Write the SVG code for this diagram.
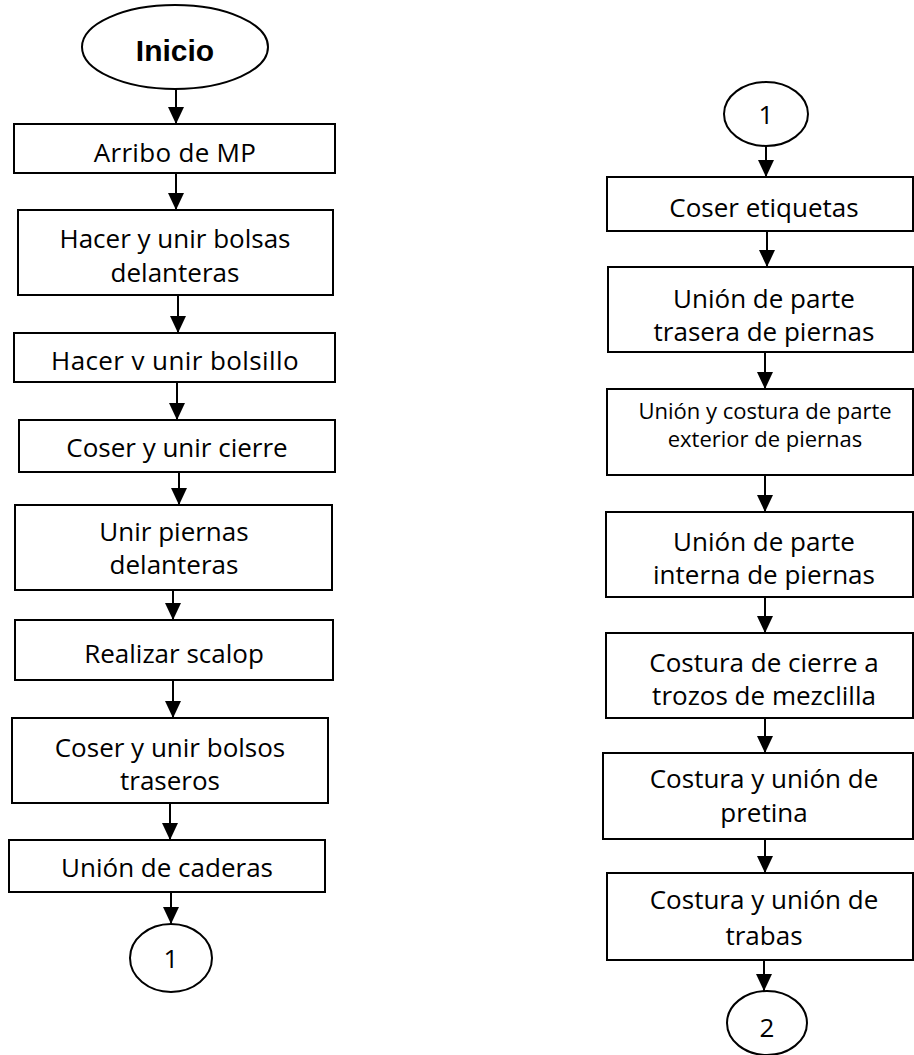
<svg xmlns="http://www.w3.org/2000/svg" width="914" height="1055" viewBox="0 0 914 1055">
<style>
.box{fill:#fff;stroke:#000;stroke-width:2}
.t{font-family:"Open Sans","Liberation Sans",sans-serif;font-size:26px;fill:#000;text-anchor:middle}
.s{font-size:22px}
.b{font-family:"Liberation Sans",Arial,sans-serif;font-weight:bold;font-size:30px;fill:#000;text-anchor:middle}
.c{fill:none;stroke:#000;stroke-width:2;marker-end:url(#ah)}
</style>
<defs>
<marker id="ah" viewBox="0 0 17 16" refX="17" refY="8" markerWidth="17" markerHeight="16" markerUnits="userSpaceOnUse" orient="auto">
<path d="M0,0 L17,8 L0,16 z" fill="#000"/>
</marker>
</defs>
<rect width="914" height="1055" fill="#fff"/>
<g id="connectors">
<line class="c" x1="176" y1="89" x2="176" y2="124"/>
<line class="c" x1="176" y1="173" x2="176" y2="210"/>
<line class="c" x1="178" y1="295" x2="178" y2="333"/>
<line class="c" x1="177" y1="382" x2="177" y2="420"/>
<line class="c" x1="179" y1="472" x2="179" y2="505"/>
<line class="c" x1="173" y1="590" x2="173" y2="620"/>
<line class="c" x1="173" y1="680" x2="173" y2="718"/>
<line class="c" x1="170" y1="803" x2="170" y2="840"/>
<line class="c" x1="171" y1="892" x2="171" y2="924"/>
<line class="c" x1="766" y1="146" x2="766" y2="177"/>
<line class="c" x1="767" y1="231" x2="767" y2="267"/>
<line class="c" x1="765" y1="352" x2="765" y2="389"/>
<line class="c" x1="765" y1="475" x2="765" y2="512"/>
<line class="c" x1="765" y1="597" x2="765" y2="633"/>
<line class="c" x1="765" y1="718" x2="765" y2="753"/>
<line class="c" x1="765" y1="839" x2="765" y2="873"/>
<line class="c" x1="764" y1="960" x2="764" y2="991"/>
</g>
<g id="inicio"><ellipse class="box" cx="175" cy="47" rx="93" ry="42"/><text class="b" x="175" y="61">Inicio</text></g>
<g id="n1"><rect class="box" x="14" y="124" width="321" height="49"/><text class="t" x="175" y="162" letter-spacing="0.3">Arribo de MP</text></g>
<g id="n2"><rect class="box" x="18" y="210" width="315" height="85"/><text class="t" x="175" y="248">Hacer y unir bolsas</text><text class="t" x="175" y="282">delanteras</text></g>
<g id="n3"><rect class="box" x="14" y="333" width="321" height="49"/><text class="t" x="175" y="370" letter-spacing="0.4">Hacer v unir bolsillo</text></g>
<g id="n4"><rect class="box" x="19" y="420" width="316" height="52"/><text class="t" x="177" y="457">Coser y unir cierre</text></g>
<g id="n5"><rect class="box" x="15" y="505" width="317" height="85"/><text class="t" x="174" y="541">Unir piernas</text><text class="t" x="174" y="574">delanteras</text></g>
<g id="n6"><rect class="box" x="15" y="620" width="318" height="60"/><text class="t" x="174" y="663">Realizar scalop</text></g>
<g id="n7"><rect class="box" x="12" y="718" width="316" height="85"/><text class="t" x="170" y="757">Coser y unir bolsos</text><text class="t" x="170" y="790">traseros</text></g>
<g id="n8"><rect class="box" x="9" y="840" width="316" height="52"/><text class="t" x="167" y="877">Unión de caderas</text></g>
<g id="c1a"><ellipse class="box" cx="171" cy="958" rx="41" ry="34"/><text class="t" x="171" y="968">1</text></g>
<g id="c1b"><ellipse class="box" cx="766" cy="114" rx="42" ry="32"/><text class="t" x="766" y="124">1</text></g>
<g id="r1"><rect class="box" x="607" y="177" width="306" height="54"/><text class="t" x="764" y="217">Coser etiquetas</text></g>
<g id="r2"><rect class="box" x="608" y="267" width="305" height="85"/><text class="t" x="764" y="308">Unión de parte</text><text class="t" x="764" y="341">trasera de piernas</text></g>
<g id="r3"><rect class="box" x="607" y="389" width="306" height="86"/><text class="t s" x="765" y="419">Unión y costura de parte</text><text class="t s" x="765" y="447">exterior de piernas</text></g>
<g id="r4"><rect class="box" x="606" y="512" width="307" height="85"/><text class="t" x="764" y="551">Unión de parte</text><text class="t" x="764" y="584">interna de piernas</text></g>
<g id="r5"><rect class="box" x="606" y="633" width="307" height="85"/><text class="t" x="764" y="672">Costura de cierre a</text><text class="t" x="764" y="705">trozos de mezclilla</text></g>
<g id="r6"><rect class="box" x="603" y="753" width="310" height="86"/><text class="t" x="764" y="788">Costura y unión de</text><text class="t" x="764" y="822">pretina</text></g>
<g id="r7"><rect class="box" x="607" y="873" width="306" height="87"/><text class="t" x="764" y="909">Costura y unión de</text><text class="t" x="764" y="945">trabas</text></g>
<g id="c2"><ellipse class="box" cx="767" cy="1023" rx="40" ry="32"/><text class="t" x="767" y="1037">2</text></g>
</svg>
